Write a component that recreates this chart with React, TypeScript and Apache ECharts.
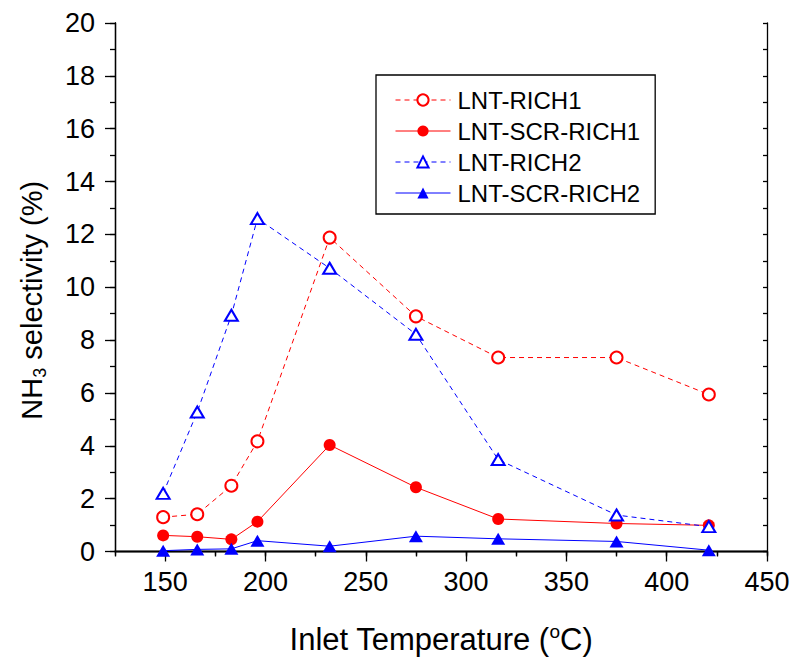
import React, { useEffect, useRef } from 'react';
import * as echarts from 'echarts';

const temps = [149, 166, 183, 196, 232, 275, 316, 375, 421];
const lntRich1 = [1.3, 1.41, 2.49, 4.17, 11.88, 8.9, 7.34, 7.34, 5.94];
const lntScrRich1 = [0.61, 0.56, 0.46, 1.13, 4.03, 2.43, 1.23, 1.06, 0.99];
const lntRich2 = [2.2, 5.28, 8.94, 12.6, 10.72, 8.22, 3.48, 1.38, 0.94];
const lntScrRich2 = [0.03, 0.08, 0.1, 0.41, 0.2, 0.58, 0.48, 0.38, 0.05];
const seriesNames = ['LNT-RICH1', 'LNT-SCR-RICH1', 'LNT-RICH2', 'LNT-SCR-RICH2'];
const xMajorTicks = [150, 200, 250, 300, 350, 400, 450];

export default function App() {
  const ref = useRef<HTMLDivElement>(null);
  useEffect(() => {
    document.body.style.margin = '0';
    const chart = echarts.init(ref.current!, null, { renderer: 'svg' });
    const font = "'Liberation Sans', Arial, sans-serif";
    const lineSt = { color: '#000', width: 1.3 };
    const xCommon = { type: 'value', min: 125, max: 450, interval: 25, splitLine: { show: false } };
    const yCommon = { type: 'value', min: 0, max: 20, splitLine: { show: false } };
    const pair = (arr: number[]) => temps.map((t, i) => [t, arr[i]]);
    chart.setOption({
      animation: false,
      backgroundColor: '#fff',
      textStyle: { fontFamily: font },
      grid: { left: 115, right: 36, top: 23, bottom: 105, containLabel: false },
      xAxis: [
        {
          ...xCommon,
          position: 'bottom',
          axisLine: { show: true, lineStyle: lineSt },
          axisTick: { show: true, length: 5, lineStyle: lineSt },
          axisLabel: { show: false },
        },
        {
          ...xCommon,
          position: 'bottom',
          axisLine: { show: true, lineStyle: lineSt },
          axisTick: { show: true, length: 10, lineStyle: lineSt, customValues: xMajorTicks },
          axisLabel: { show: true, customValues: xMajorTicks, fontSize: 27, color: '#000', margin: 17, fontFamily: font },
          name: '{a|Inlet Temperature (}{sup|o}{a|C)}',
          nameLocation: 'middle',
          nameGap: 70,
          nameTextStyle: {
            fontFamily: font,
            rich: {
              a: { fontSize: 31, color: '#000', fontFamily: font, lineHeight: 36 },
              sup: { fontSize: 19, color: '#000', fontFamily: font, verticalAlign: 'top', lineHeight: 20 },
            },
          },
        },
        {
          ...xCommon,
          position: 'top',
          axisLine: { show: true, lineStyle: lineSt },
          axisTick: { show: true, inside: true, length: 4, lineStyle: lineSt },
          axisLabel: { show: false },
        },
      ],
      yAxis: [
        {
          ...yCommon,
          interval: 1,
          position: 'left',
          axisLine: { show: true, lineStyle: lineSt },
          axisTick: { show: true, length: 5, lineStyle: lineSt },
          axisLabel: { show: false },
        },
        {
          ...yCommon,
          interval: 2,
          position: 'left',
          axisLine: { show: true, lineStyle: lineSt },
          axisTick: { show: true, length: 10, lineStyle: lineSt },
          axisLabel: { show: true, fontSize: 27, color: '#000', margin: 20, fontFamily: font },
          name: '{a|NH}{sub|3}{a| selectivity (%)}',
          nameLocation: 'middle',
          nameGap: 66,
          nameTextStyle: {
            fontFamily: font,
            padding: [0, 26, 0, 0],
            rich: {
              a: { fontSize: 29, color: '#000', fontFamily: font, lineHeight: 34 },
              sub: { fontSize: 18, color: '#000', fontFamily: font, verticalAlign: 'bottom', lineHeight: 18 },
            },
          },
        },
        {
          ...yCommon,
          interval: 1,
          position: 'right',
          axisLine: { show: true, lineStyle: lineSt },
          axisTick: { show: true, inside: true, length: 4, lineStyle: lineSt },
          axisLabel: { show: false },
        },
      ],
      legend: {
        orient: 'vertical',
        left: 376,
        top: 75,
        padding: [13, 15, 9, 19],
        itemWidth: 55,
        itemHeight: 14,
        itemGap: 7,
        borderColor: '#000',
        borderWidth: 1.3,
        lineStyle: { width: 1 },
        textStyle: { fontSize: 24, color: '#000', fontFamily: font, lineHeight: 22, padding: [0, 0, 0, 2] },
        data: seriesNames,
      },
      series: [
        {
          name: seriesNames[0],
          type: 'line',
          data: pair(lntRich1),
          symbol: 'emptyCircle',
          symbolSize: 12,
          lineStyle: { color: '#ff0000', width: 1, type: [5, 4] },
          itemStyle: { color: '#ff0000', borderWidth: 1.3 },
        },
        {
          name: seriesNames[1],
          type: 'line',
          data: pair(lntScrRich1),
          symbol: 'circle',
          symbolSize: 12,
          lineStyle: { color: '#ff0000', width: 1 },
          itemStyle: { color: '#ff0000' },
        },
        {
          name: seriesNames[2],
          type: 'line',
          data: pair(lntRich2),
          symbol: 'emptyTriangle',
          symbolSize: [13, 11],
          lineStyle: { color: '#0000ff', width: 1, type: [5, 4] },
          itemStyle: { color: '#0000ff', borderWidth: 1.3 },
        },
        {
          name: seriesNames[3],
          type: 'line',
          data: pair(lntScrRich2),
          symbol: 'triangle',
          symbolSize: [14, 12],
          lineStyle: { color: '#0000ff', width: 1 },
          itemStyle: { color: '#0000ff' },
        },
      ],
    });
    return () => chart.dispose();
  }, []);
  return <div ref={ref} style={{ width: 803, height: 660 }} />;
}
